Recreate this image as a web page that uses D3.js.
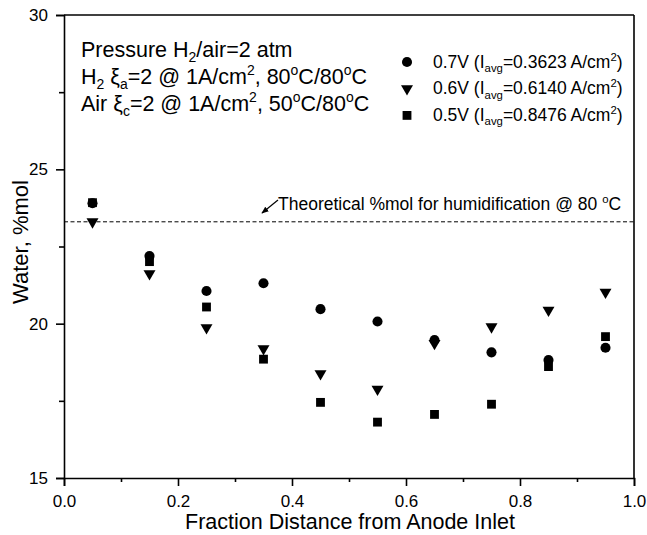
<!DOCTYPE html>
<meta charset="utf-8">
<style>
body { margin: 0; background: #fff; }
text { font-family: "Liberation Sans", Arial, sans-serif; fill: #000; }
.axis path, .axis line { stroke: #000; stroke-width: 1.6; }
</style>
<script src="https://cdn.jsdelivr.net/npm/d3@7/dist/d3.min.js"></script>
<body>
<script>
// fraction distance from anode inlet
const positions = [0.05, 0.15, 0.25, 0.35, 0.45, 0.55, 0.65, 0.75, 0.85, 0.95];
// water %mol for each cell voltage
const water07 = [23.90, 22.19, 21.06, 21.31, 20.47, 20.07, 19.47, 19.07, 18.82, 19.22];
const water06 = [23.30, 21.62, 19.87, 19.19, 18.38, 17.88, 19.36, 19.90, 20.44, 21.02];
const water05 = [23.92, 22.01, 20.54, 18.85, 17.45, 16.81, 17.06, 17.39, 18.61, 19.58];
const theoretical = 23.3;

const xMajor = [0, 0.2, 0.4, 0.6, 0.8, 1.0];
const xMinor = [0.1, 0.3, 0.5, 0.7, 0.9];
const yMajor = [15, 20, 25, 30];
const yMinor = [17.5, 22.5, 27.5];

const series = [
  {name: '0.7V', current: '0.3623', values: water07, shape: 'circle'},
  {name: '0.6V', current: '0.6140', values: water06, shape: 'triangle'},
  {name: '0.5V', current: '0.8476', values: water05, shape: 'square'}
];

const margin = { top: 15, right: 13, bottom: 57, left: 64 };
const width = 647 - margin.left - margin.right;
const height = 535 - margin.top - margin.bottom;

const svg = d3.select('body')
  .append('svg')
    .attr('width', 647)
    .attr('height', 535)
  .append('g')
    .attr('transform', `translate(${margin.left}, ${margin.top})`);

const xScale = d3.scaleLinear().domain([0, 1]).range([0, width]);
const yScale = d3.scaleLinear().domain([15, 30]).range([height, 0]);

// axes
svg.append('g')
    .attr('class', 'axis')
    .attr('transform', `translate(0, ${height})`)
  .call(d3.axisBottom(xScale).tickValues(xMajor).tickSize(8).tickPadding(9)
        .tickFormat(d3.format('.1f')))
  .selectAll('text').style('font-size', '17px');
svg.append('g')
    .attr('class', 'axis')
    .attr('transform', `translate(0, ${height})`)
  .call(d3.axisBottom(xScale).tickValues(xMinor).tickSize(4).tickFormat(''))
  .select('.domain').remove();

svg.append('g')
    .attr('class', 'axis')
  .call(d3.axisLeft(yScale).tickValues(yMajor).tickSize(8).tickPadding(8)
        .tickFormat(d3.format('d')))
  .selectAll('text').style('font-size', '17px');
svg.append('g')
    .attr('class', 'axis')
  .call(d3.axisLeft(yScale).tickValues(yMinor).tickSize(5).tickFormat(''))
  .select('.domain').remove();

// top and right frame
svg.append('line').attr('x1', 0).attr('x2', width).attr('y1', 0).attr('y2', 0)
  .attr('stroke', '#000').attr('stroke-width', 1.6);
svg.append('line').attr('x1', width).attr('x2', width).attr('y1', 0).attr('y2', height)
  .attr('stroke', '#000').attr('stroke-width', 1.6);

// axis titles
svg.append('text')
    .attr('text-anchor', 'middle')
    .attr('x', width / 2 + 1)
    .attr('y', height + 51)
    .style('font-size', '21.5px')
    .text('Fraction Distance from Anode Inlet');

svg.append('text')
    .attr('text-anchor', 'middle')
    .attr('transform', 'rotate(-90)')
    .attr('x', -227)
    .attr('y', -36)
    .style('font-size', '22px')
    .text('Water, %mol');

// rich text helper: parts are [string, 'n' | 'sub' | 'sup']
function richText(sel, x, y, size, parts) {
  const t = sel.append('text').attr('x', x).attr('y', y).style('font-size', size + 'px');
  let shift = 0;
  parts.forEach(([s, kind]) => {
    let target = 0, fs = size;
    if (kind === 'sub') { target = size * 0.25; fs = size * 0.65; }
    if (kind === 'sup') { target = -size * 0.4; fs = size * 0.65; }
    t.append('tspan').attr('dy', target - shift).style('font-size', fs + 'px').text(s);
    shift = target;
  });
  return t;
}

// condition notes
richText(svg, 17, 42, 21.5, [['Pressure H'], ['2', 'sub'], ['/air=2 atm']]);
richText(svg, 17, 68.5, 21.5, [['H'], ['2', 'sub'], [' \u03be'], ['a', 'sub'], ['=2 @ 1A/cm'], ['2', 'sup'],
  [', 80'], ['o', 'sup'], ['C/80'], ['o', 'sup'], ['C']]);
richText(svg, 17, 95.5, 21.5, [['Air \u03be'], ['c', 'sub'], ['=2 @ 1A/cm'], ['2', 'sup'],
  [', 50'], ['o', 'sup'], ['C/80'], ['o', 'sup'], ['C']]);

// theoretical line
svg.append('line')
    .attr('x1', 0).attr('x2', width)
    .attr('y1', yScale(theoretical)).attr('y2', yScale(theoretical))
    .attr('stroke', '#000').attr('stroke-width', 1)
    .attr('stroke-dasharray', '4,2.5');

svg.append('defs').append('marker')
    .attr('id', 'arrow').attr('viewBox', '0 0 10 10')
    .attr('refX', 9).attr('refY', 5)
    .attr('markerWidth', 6).attr('markerHeight', 6)
    .attr('orient', 'auto')
  .append('path').attr('d', 'M0,1L10,5L0,9Z').attr('fill', '#000');

svg.append('line')
    .attr('x1', 214).attr('y1', 185)
    .attr('x2', 198).attr('y2', 198)
    .attr('stroke', '#000').attr('stroke-width', 1.2)
    .attr('marker-end', 'url(#arrow)');

richText(svg, 214, 194.5, 17.5, [['Theoretical %mol for humidification @ 80 '], ['o', 'sup'], ['C']]);

// markers
const symbolFor = {
  circle: d3.symbol().type(d3.symbolCircle).size(80),
  triangle: d3.symbol().type(d3.symbolTriangle).size(62),
  square: d3.symbol().type(d3.symbolSquare).size(78)
};
const rotFor = { circle: 0, triangle: 180, square: 0 };

series.forEach(s => {
  svg.append('g').selectAll('path')
    .data(s.values)
    .enter()
    .append('path')
      .attr('d', symbolFor[s.shape]())
      .attr('fill', '#000')
      .attr('transform', (d, i) => `translate(${xScale(positions[i])}, ${yScale(d)}) rotate(${rotFor[s.shape]})`);
});

// legend
const legend = svg.append('g').attr('transform', 'translate(343, 47)');
series.forEach((s, i) => {
  legend.append('path')
    .attr('d', symbolFor[s.shape]())
    .attr('fill', '#000')
    .attr('transform', `translate(0, ${i * 26.7}) rotate(${rotFor[s.shape]})`);
  richText(legend, 26, i * 26.7 + 5.5, 17.5, [[s.name + ' (I'], ['avg', 'sub'], ['=' + s.current + ' A/cm'], ['2', 'sup'], [')']]);
});
</script>
</body>
